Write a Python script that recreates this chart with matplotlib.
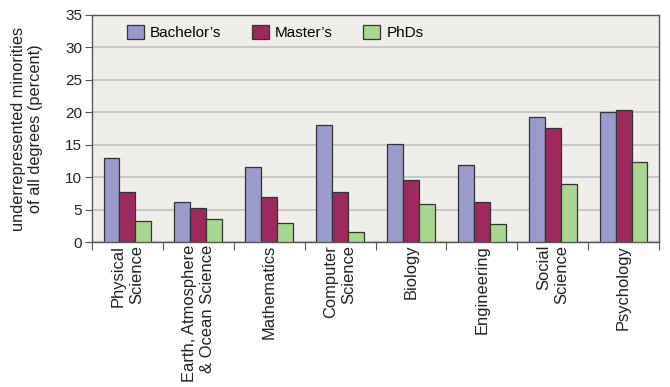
import numpy as np
import matplotlib
matplotlib.use("Agg")
import matplotlib.pyplot as plt

plt.rcParams["font.family"] = ["Liberation Sans", "DejaVu Sans"]

fields = ["Physical\nScience", "Earth, Atmosphere\n& Ocean Science", "Mathematics",
          "Computer\nScience", "Biology", "Engineering", "Social\nScience", "Psychology"]
bachelors = [13.0, 6.1, 11.55, 18.1, 15.15, 11.9, 19.35, 20.1]
masters   = [7.75, 5.3, 6.9, 7.75, 9.5, 6.1, 17.65, 20.3]
phds      = [3.3, 3.6, 3.0, 1.55, 5.8, 2.8, 8.9, 12.3]

series = [("Bachelor\u2019s", bachelors, "#9A9ACC"),
          ("Master\u2019s", masters, "#9C2A5E"),
          ("PhDs", phds, "#A8D890")]

fig = plt.figure(figsize=(6.7, 3.87), dpi=100)
ax = fig.add_axes([92/670, 1 - 242/387, (659-92)/670, (242-15)/387])
ax.set_facecolor("#F0EEEA")

x = np.arange(len(fields))
w = 0.225
for i, (lab, vals, col) in enumerate(series):
    ax.bar(x + (i - 1) * w, vals, w, color=col, edgecolor="#333333",
           linewidth=0.9, label=lab, zorder=3)

ax.set_ylim(0, 35)
ax.set_xlim(-0.5, len(fields) - 0.5)
ax.set_yticks(range(0, 36, 5))
ax.yaxis.grid(True, color="#C4C4C4", lw=1.3, zorder=0)
ax.tick_params(axis="y", labelsize=11, length=5, color="#555555", pad=2,
               labelcolor="#222222")

# category boundary ticks, labels at centers
ax.set_xticks(np.arange(len(fields) + 1) - 0.5)
ax.set_xticklabels([])
ax.tick_params(axis="x", which="major", length=6, color="#555555")
ax.set_xticks(x, minor=True)
ax.set_xticklabels(fields, minor=True, rotation=90, fontsize=11.9,
                   ha="center", va="top", multialignment="right", color="#222222",
                   linespacing=1.25)
ax.tick_params(axis="x", which="minor", length=0, pad=2)

for s in ax.spines.values():
    s.set_color("#555555")
    s.set_linewidth(1.0)

ax.set_ylabel("underrepresented minorities\nof all degrees (percent)", fontsize=11.8,
              labelpad=16, color="#222222", linespacing=1.2)

ax.legend(loc="upper left", bbox_to_anchor=(0.038, 1.015), ncol=3, frameon=False,
          fontsize=11, handlelength=1.1, handleheight=1.0, columnspacing=2.0,
          handletextpad=0.4)

fig.savefig("out.png", dpi=100)
